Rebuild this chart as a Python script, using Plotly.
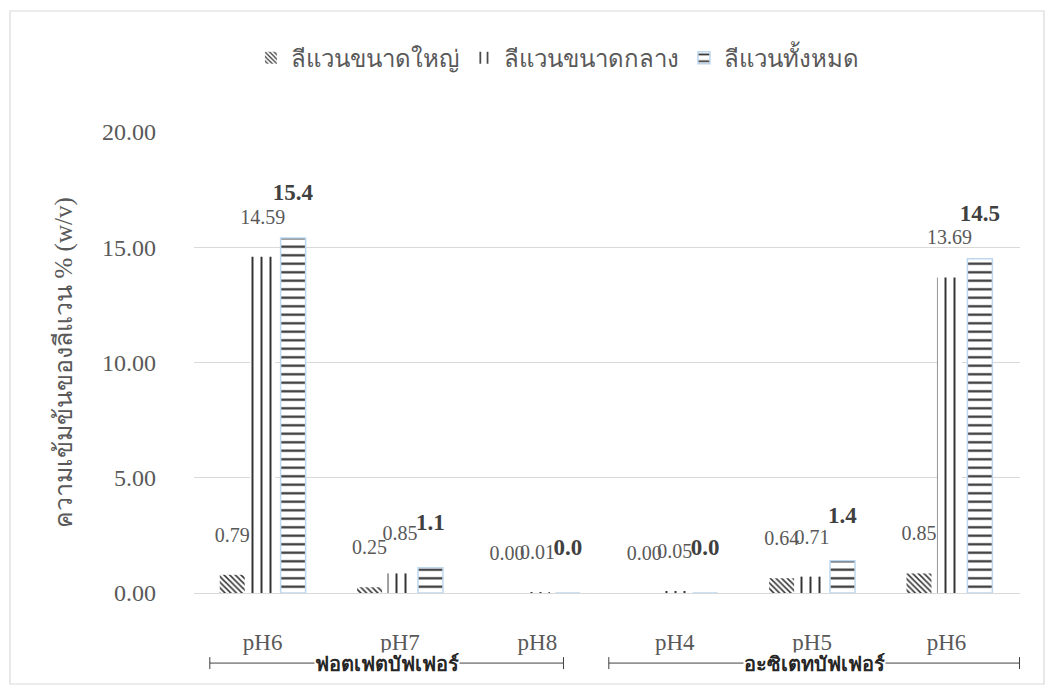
import plotly.graph_objects as go

categories = ["pH6", "pH7", "pH8", "pH4", "pH5", "pH6 "]
large_levan = [0.79, 0.25, 0.00, 0.00, 0.64, 0.85]
medium_levan = [14.59, 0.85, 0.01, 0.05, 0.71, 13.69]
total_levan = [15.4, 1.1, 0.0, 0.0, 1.4, 14.5]

series_names = ["ลีแวนขนาดใหญ่", "ลีแวนขนาดกลาง", "ลีแวนทั้งหมด"]
buffer_groups = ["ฟอตเฟตบัฟเฟอร์", "อะซิเตทบัฟเฟอร์"]

SERIF = "Liberation Serif, Times New Roman, serif"
GRAY = "#595959"

fig = go.Figure()

fig.add_trace(go.Bar(
    name=series_names[0], x=categories, y=large_levan,
    marker=dict(color="white", line=dict(width=0),
                pattern=dict(shape="\\", fgcolor="#333333", bgcolor="white",
                             fgopacity=1, size=4, solidity=0.38)),
    text=[f"{v:.2f}<br> " for v in large_levan], textposition="outside",
    textfont=dict(family=SERIF, size=20, color=GRAY),
))
fig.add_trace(go.Bar(
    name=series_names[1], x=categories, y=medium_levan,
    marker=dict(color="white", line=dict(width=0),
                pattern=dict(shape="|", fgcolor="#333333", bgcolor="white",
                             fgopacity=1, size=9, solidity=0.22)),
    text=[f"{v:.2f}<br> " for v in medium_levan], textposition="outside",
    textfont=dict(family=SERIF, size=20, color=GRAY),
))
fig.add_trace(go.Bar(
    name=series_names[2], x=categories, y=total_levan,
    marker=dict(color="white", line=dict(width=1.5, color="#BDD7EE"),
                pattern=dict(shape="-", fgcolor="#333333", bgcolor="white",
                             fgopacity=1, size=8.5, solidity=0.26)),
    text=[f"<b>{v:.1f}</b><br> " for v in total_levan], textposition="outside",
    textfont=dict(family=SERIF, size=23, color="#404040"),
))

fig.update_traces(constraintext="none", cliponaxis=False)

# bracket lines with buffer names under the pH labels
brackets = [(-0.385, 2.19, buffer_groups[0]), (2.52, 5.51, buffer_groups[1])]
for x0, x1, label in brackets:
    fig.add_shape(type="line", xref="x", yref="paper", x0=x0, x1=x1,
                  y0=-0.152, y1=-0.152, line=dict(color="#404040", width=1))
    for xe in (x0, x1):
        fig.add_shape(type="line", xref="x", yref="paper", x0=xe, x1=xe,
                      y0=-0.139, y1=-0.165, line=dict(color="#404040", width=1))
    fig.add_annotation(x=(x0 + x1) / 2, y=-0.154, xref="x", yref="paper",
                       yanchor="middle", text=f"<b>{label}</b>", showarrow=False,
                       bgcolor="white", borderpad=0,
                       font=dict(family=SERIF, size=20, color="#262626"))

# outer chart frame
fig.add_shape(type="rect", xref="paper", yref="paper",
              x0=(10 - 194) / 826, x1=(1044 - 194) / 826,
              y0=(593 - 684) / 461, y1=(593 - 11) / 461,
              line=dict(color="#D9D9D9", width=1.2))

fig.update_layout(
    width=1054, height=693,
    margin=dict(l=194, r=34, t=132, b=100),
    paper_bgcolor="white", plot_bgcolor="white",
    barmode="group", bargap=0.335, bargroupgap=0.18,
    font=dict(family=SERIF, color=GRAY, size=18),
    showlegend=True,
    legend=dict(orientation="h", x=0.44, xanchor="center", y=1.16, yanchor="middle",
                font=dict(family=SERIF, size=24, color=GRAY),
                itemwidth=30, traceorder="normal"),
    xaxis=dict(showgrid=False, showline=True, linecolor="#D9D9D9",
               ticks="", tickfont=dict(family=SERIF, size=23, color=GRAY),
               ticklabelstandoff=28),
    yaxis=dict(range=[0, 20], tickvals=[0, 5, 10, 15, 20], tickformat=".2f",
               showgrid=True, gridcolor="#D9D9D9", gridwidth=1,
               zeroline=False, showline=False, ticks="",
               tickfont=dict(family=SERIF, size=24, color=GRAY),
               ticklabelstandoff=37,
               title=dict(text="ความเข้มข้นของลีแวน % (w/v)", standoff=22,
                          font=dict(family=SERIF, size=25, color=GRAY))),
)

fig.write_html("out.html")
